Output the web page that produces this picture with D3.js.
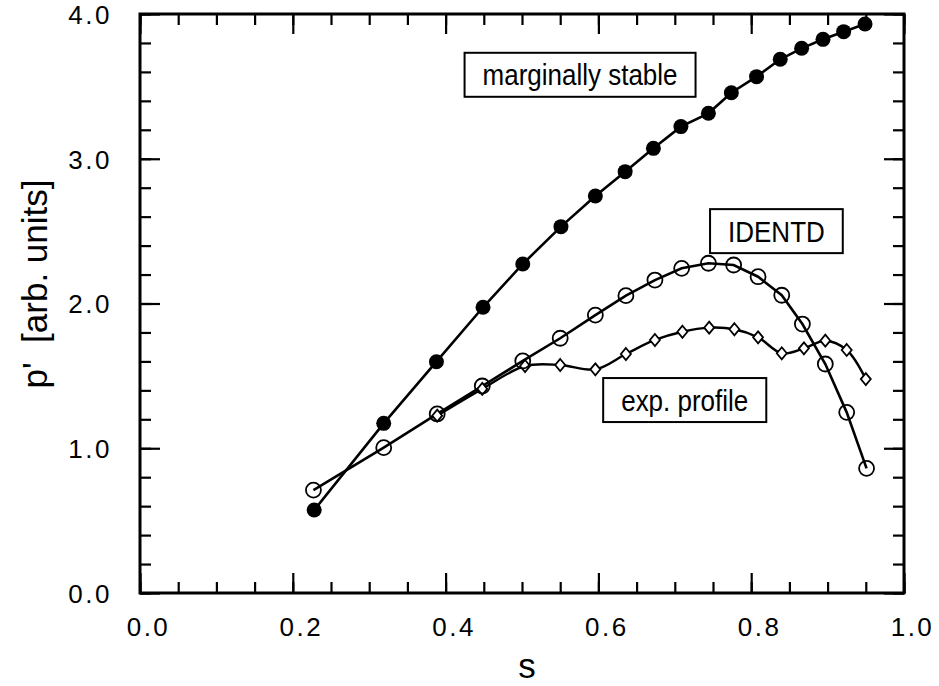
<!DOCTYPE html>
<html>
<head>
<meta charset="utf-8">
<script src="https://cdn.jsdelivr.net/npm/d3@7"></script>
<style>
  body { margin: 0; background: #fff; }
  svg { display: block; font-family: "Liberation Sans", Arial, Helvetica, sans-serif; }
</style>
</head>
<body>
<svg id="chart" width="939" height="686"></svg>
<script>
// marginally stable (filled circles)
const sStable = [0.228, 0.319, 0.388, 0.449, 0.501, 0.551, 0.596, 0.635, 0.672, 0.708, 0.744, 0.774, 0.807, 0.838, 0.866, 0.894, 0.921, 0.949];
const pStable = [0.573, 1.172, 1.598, 1.974, 2.273, 2.531, 2.743, 2.911, 3.072, 3.222, 3.314, 3.456, 3.567, 3.687, 3.763, 3.825, 3.878, 3.931];

// IDENTD (open circles)
const sIdentd = [0.227, 0.319, 0.389, 0.448, 0.501, 0.550, 0.596, 0.636, 0.674, 0.709, 0.744, 0.777, 0.809, 0.840, 0.867, 0.897, 0.925, 0.951];
const pIdentd = [0.711, 1.004, 1.237, 1.430, 1.603, 1.760, 1.920, 2.054, 2.162, 2.243, 2.278, 2.266, 2.185, 2.057, 1.858, 1.582, 1.248, 0.861];

// exp. profile (diamonds)
const sExp = [0.389, 0.448, 0.504, 0.550, 0.596, 0.636, 0.674, 0.710, 0.745, 0.778, 0.809, 0.840, 0.869, 0.897, 0.925, 0.950];
const pExp = [1.225, 1.410, 1.568, 1.575, 1.545, 1.651, 1.748, 1.805, 1.833, 1.822, 1.766, 1.656, 1.690, 1.743, 1.679, 1.478];

const xMajor = [0.0, 0.2, 0.4, 0.6, 0.8, 1.0];
const yMajor = [0.0, 1.0, 2.0, 3.0, 4.0];

// labels: [text, s, p]
const notes = [
  ["marginally stable", 0.576, 3.58],
  ["IDENTD", 0.833, 2.50],
  ["exp. profile", 0.713, 1.333]
];

const svg = d3.select('#chart');
const margin = { left: 140, top: 14, right: 35, bottom: 93 };
const w = 939 - margin.left - margin.right;
const h = 686 - margin.top - margin.bottom;

const x = d3.scaleLinear().domain([0, 1]).range([0, w]);
const y = d3.scaleLinear().domain([0, 4]).range([h, 0]);

const g = svg.append('g').attr('transform', `translate(${margin.left},${margin.top})`);

const xMinor = d3.range(0, 1.0001, 0.05);
const yMinor = d3.range(0, 4.0001, 0.2);

function styleAxis(sel) {
  sel.select('.domain').remove();
  sel.selectAll('line').attr('stroke', '#000').attr('stroke-width', 2.2);
}

// minor ticks on all four sides (inward)
g.append('g').attr('transform', `translate(0,${h})`)
  .call(d3.axisBottom(x).tickValues(xMinor).tickSize(-11).tickFormat(''))
  .call(styleAxis);
g.append('g')
  .call(d3.axisTop(x).tickValues(xMinor).tickSize(-11).tickFormat(''))
  .call(styleAxis);
g.append('g')
  .call(d3.axisLeft(y).tickValues(yMinor).tickSize(-11).tickFormat(''))
  .call(styleAxis);
g.append('g').attr('transform', `translate(${w},0)`)
  .call(d3.axisRight(y).tickValues(yMinor).tickSize(-11).tickFormat(''))
  .call(styleAxis);

// major ticks with labels
const xAx = g.append('g').attr('transform', `translate(0,${h})`)
  .call(d3.axisBottom(x).tickValues(xMajor).tickSize(-20).tickPadding(25).tickFormat(d3.format('.1f')))
  .call(styleAxis);
g.append('g')
  .call(d3.axisTop(x).tickValues(xMajor).tickSize(-20).tickFormat(''))
  .call(styleAxis);
const yAx = g.append('g')
  .call(d3.axisLeft(y).tickValues(yMajor).tickSize(-20).tickPadding(28).tickFormat(d3.format('.1f')))
  .call(styleAxis);
g.append('g').attr('transform', `translate(${w},0)`)
  .call(d3.axisRight(y).tickValues(yMajor).tickSize(-20).tickFormat(''))
  .call(styleAxis);

[xAx, yAx].forEach(a => a.selectAll('text')
  .attr('fill', '#000')
  .style('font-size', '26px')
  .style('letter-spacing', '2.5px')
  .style('font-family', '"Liberation Sans", Arial, sans-serif'));
xAx.selectAll('text').attr('dx', 8);
yAx.selectAll('text').attr('dy', '0.36em');

// frame
g.append('rect')
  .attr('x', 0).attr('y', 0).attr('width', w).attr('height', h)
  .attr('fill', 'none').attr('stroke', '#000').attr('stroke-width', 3);

// axis titles
svg.append('text')
  .attr('x', margin.left + x(0.5) + 5).attr('y', 678)
  .attr('text-anchor', 'middle')
  .style('font-size', '35px')
  .text('s');
svg.append('text')
  .attr('transform', `translate(47,${284}) rotate(-90)`)
  .attr('text-anchor', 'middle')
  .style('font-size', '35px')
  .style('white-space', 'pre')
  .text("p'  [arb. units]");

// series
const line = d3.line().x(d => x(d[0])).y(d => y(d[1]));
const stableData = d3.zip(sStable, pStable);
const identdData = d3.zip(sIdentd, pIdentd);
const expData = d3.zip(sExp, pExp);

[stableData, identdData].forEach(data => {
  g.append('path').datum(data)
    .attr('d', line)
    .attr('fill', 'none').attr('stroke', '#000').attr('stroke-width', 2.6);
});
g.append('path').datum(expData)
  .attr('d', line.curve(d3.curveCatmullRom))
  .attr('fill', 'none').attr('stroke', '#000').attr('stroke-width', 2.4);

g.selectAll('.dm').data(expData).enter().append('path')
  .attr('class', 'dm')
  .attr('transform', d => `translate(${x(d[0])},${y(d[1])})`)
  .attr('d', 'M0,-6L5,0L0,6L-5,0Z')
  .attr('fill', '#fff').attr('stroke', '#000').attr('stroke-width', 1.8);

g.selectAll('.oc').data(identdData).enter().append('circle')
  .attr('class', 'oc')
  .attr('cx', d => x(d[0])).attr('cy', d => y(d[1])).attr('r', 7.5)
  .attr('fill', 'none').attr('stroke', '#000').attr('stroke-width', 1.8);

g.selectAll('.fc').data(stableData).enter().append('circle')
  .attr('class', 'fc')
  .attr('cx', d => x(d[0])).attr('cy', d => y(d[1])).attr('r', 7.5)
  .attr('fill', '#000');

// boxed labels
notes.forEach(([txt, s, p]) => {
  const ng = g.append('g').attr('transform', `translate(${x(s)},${y(p)})`);
  const t = ng.append('text')
    .attr('text-anchor', 'middle')
    .attr('transform', 'scale(1,1.15)')
    .attr('dy', '0.35em')
    .style('font-size', '26px')
    .text(txt);
  const bw = t.node().getBBox().width + 36;
  ng.insert('rect', 'text')
    .attr('x', -bw / 2).attr('y', -22).attr('width', bw).attr('height', 44)
    .attr('fill', '#fff').attr('stroke', '#000').attr('stroke-width', 2);
});
</script>
</body>
</html>
